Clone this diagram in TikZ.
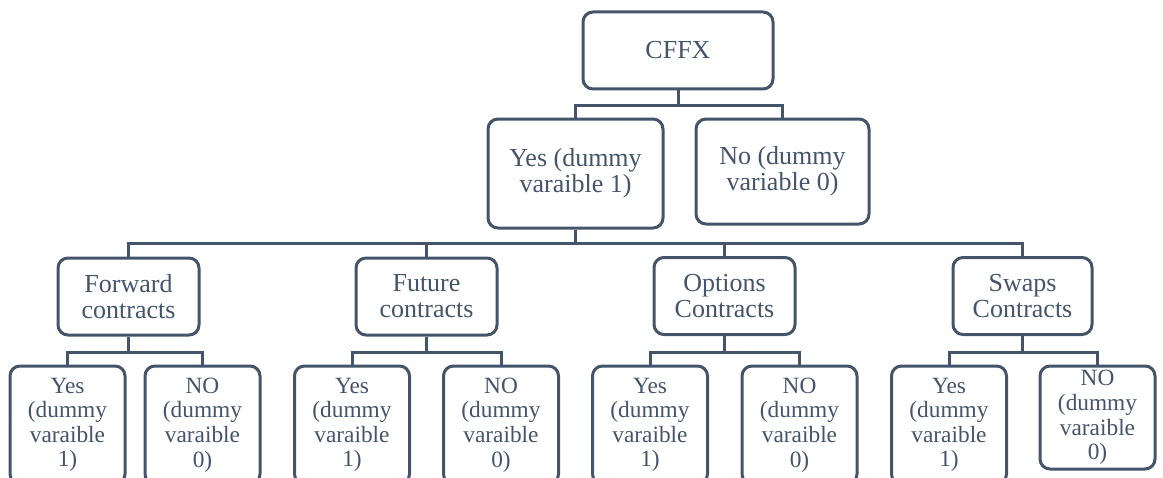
\documentclass[tikz,border=0pt]{standalone}
\usepackage{fontspec}
\setmainfont{Liberation Serif}
\definecolor{slate}{HTML}{44546A}
\tikzset{
	box/.style={draw=slate, text=slate, line width=2.25pt, rounded corners=7.5pt, align=center, inner sep=0pt, font=\fontsize{19.5}{19.5}\selectfont},
	mid/.style={box, minimum width=105.75pt, minimum height=57.75pt},
	leaf/.style={box, minimum width=86.25pt, minimum height=88.5pt, font=\fontsize{17.5}{18.4}\selectfont},
	link/.style={draw=slate, line width=2.25pt},
}

\begin{document}
\begin{tikzpicture}[x=0.75pt, y=-0.75pt]
	\clip (0,0) rectangle (1163,478);
	% top levels
	\node[box, minimum width=142.5pt, minimum height=57.75pt] (cffx) at (678,50.5) {CFFX};
	\node[box, minimum width=131.25pt, minimum height=81.75pt] (yes) at (575.5,173.5) {Yes (dummy\\varaible 1)};
	\node[box, minimum width=129.75pt, minimum height=78.75pt] (no) at (782.5,171.5) {No (dummy\\variable 0)};
	% kinds of contracts
	\node[mid] (fwd) at (128.5,296.5) {Forward\\contracts};
	\node[mid] (fut) at (426.5,296.5) {Future\\contracts};
	\node[mid] (opt) at (724.5,296) {Options\\Contracts};
	\node[mid, minimum width=104.25pt] (swp) at (1022.5,296) {Swaps\\Contracts};
	% dummies
	\foreach \name/\x in {y1/67.5, y2/352, y3/650, y4/949}
		\node[leaf] (\name) at (\x,425) {Yes\\(dummy\\varaible\\1)};
	\foreach \name/\x in {n1/202.5, n2/501, n3/799.5}
		\node[leaf] (\name) at (\x,425) {NO\\(dummy\\varaible\\0)};
	\node[leaf, minimum height=77.25pt] (n4) at (1097.5,417.5) {NO\\(dummy\\varaible\\0)};
	% connectors
	\coordinate (j0) at (678,105);
	\coordinate (j1) at (575.5,243);
	\draw[link] (cffx.south) -- (j0) (yes.north) |- (j0) -| (no.north);
	\draw[link] (yes.south) -- (j1) (fwd.north) |- (j1) -| (swp.north);
	\draw[link] (fut.north) -- (fut.north |- j1) (opt.north) -- (opt.north |- j1);
	\foreach \p/\a/\b in {fwd/y1/n1, fut/y2/n2, opt/y3/n3, swp/y4/n4}
		\draw[link] (\p.south) -- ++(0,16) coordinate (\p-j) (\a.north) |- (\p-j) -| (\b.north);
\end{tikzpicture}
\end{document}
